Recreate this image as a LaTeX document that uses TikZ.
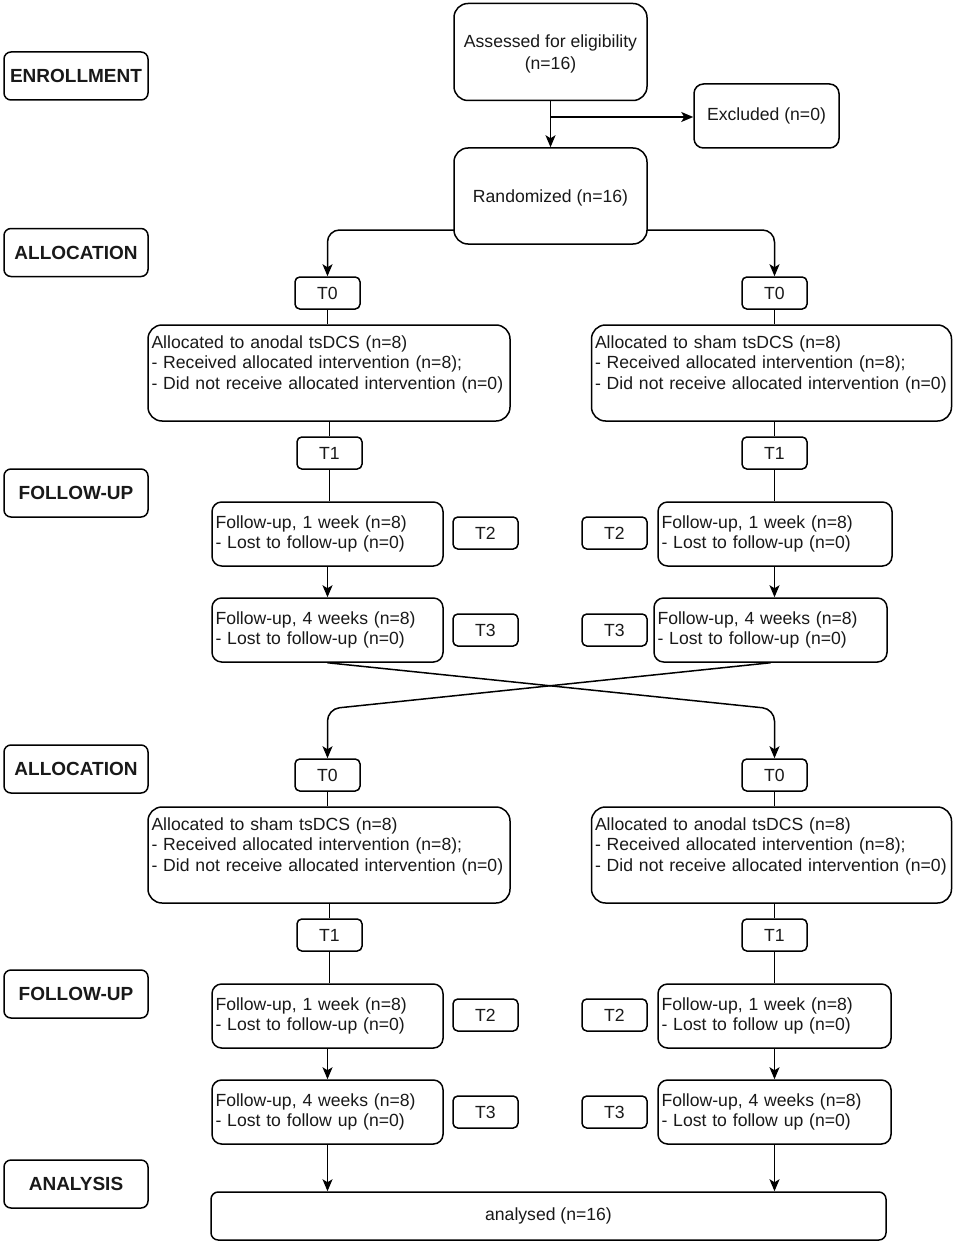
\documentclass[tikz,border=0pt]{standalone}
\usepackage{fontspec}
\setmainfont{Liberation Sans}
\usetikzlibrary{arrows.meta}
\begin{document}
\begin{tikzpicture}[x=1pt,y=-1pt,
  every node/.style={font=\fontsize{17.6}{20.8}\selectfont, text=black!90},
  cbox/.style={draw, line width=1.5pt, rounded corners=#1, inner sep=0pt, align=center},
  lbox/.style={draw, line width=1.5pt, rounded corners=#1, inner xsep=3.5pt, inner ysep=0pt, align=left},
  stagebox/.style={draw, line width=1.5pt, rounded corners=7pt, inner sep=0pt, minimum width=144pt, minimum height=48pt, font=\fontsize{19}{22}\selectfont\bfseries},
  tbox/.style={draw, line width=1.5pt, rounded corners=4.8pt, inner sep=0pt, minimum width=65pt, minimum height=32pt},
  conn/.style={line width=1.5pt},
  arr/.style={line width=1.5pt, -{Stealth[length=12pt,width=10pt,inset=3pt]}}
]
\fill[white] (0,0) rectangle (957,1252);
\useasboundingbox (0,0) rectangle (957,1252);

% stage labels
\node[stagebox] (enr) at (76,76) {ENROLLMENT};
\node[stagebox] (alab1) at (76,252.5) {ALLOCATION};
\node[stagebox] (flab1) at (76,493) {FOLLOW-UP};
\node[stagebox] (alab2) at (76,769) {ALLOCATION};
\node[stagebox] (flab2) at (76,994) {FOLLOW-UP};
\node[stagebox] (anlab) at (76,1184) {ANALYSIS};

% top
\node[cbox=14pt, minimum width=193pt, minimum height=97pt] (assess) at (550.5,52) {\rule{0pt}{16pt}Assessed for eligibility\\[1.5pt](n=16)};
\node[cbox=9.5pt, minimum width=145pt, minimum height=64pt] (excl) at (766.5,116) {Excluded (n=0)};
\node[cbox=14pt, minimum width=193pt, minimum height=96pt] (rand) at (550.5,196) {\rule{0pt}{17pt}Randomized (n=16)};

% period 1
\node[tbox] (t0a) at (327.5,293) {T0};
\node[tbox] (t0b) at (774.5,293) {T0};
\node[lbox=14pt, text width=355pt, minimum height=96pt] (al1) at (329,373) {Allocated to anodal tsDCS (n=8)\\- Received allocated intervention (n=8);\\- Did not receive allocated intervention (n=0)\\\mbox{}};
\node[lbox=14pt, text width=353pt, minimum height=96pt] (al2) at (771.5,373) {Allocated to sham tsDCS (n=8)\\- Received allocated intervention (n=8);\\- Did not receive allocated intervention (n=0)\\\mbox{}};
\node[tbox] (t1a) at (329.5,453) {T1};
\node[tbox] (t1b) at (774.5,453) {T1};
\node[lbox=9.6pt, text width=224pt, minimum height=64pt] (fu1a) at (327.5,534) {Follow-up, 1 week (n=8)\\- Lost to follow-up (n=0)};
\node[lbox=9.6pt, text width=227pt, minimum height=64pt] (fu1b) at (775,534) {Follow-up, 1 week (n=8)\\- Lost to follow-up (n=0)};
\node[tbox] (t2a) at (485.5,533) {T2};
\node[tbox] (t2b) at (614.5,533) {T2};
\node[lbox=9.6pt, text width=224pt, minimum height=64pt] (fu4a) at (327.5,630) {Follow-up, 4 weeks (n=8)\\- Lost to follow-up (n=0)};
\node[lbox=9.6pt, text width=226pt, minimum height=64pt] (fu4b) at (770.5,630) {Follow-up, 4 weeks (n=8)\\- Lost to follow-up (n=0)};
\node[tbox] (t3a) at (485.5,630) {T3};
\node[tbox] (t3b) at (614.5,630) {T3};

% period 2
\node[tbox] (t0c) at (327.5,775) {T0};
\node[tbox] (t0d) at (774.5,775) {T0};
\node[lbox=14pt, text width=355pt, minimum height=96pt] (al3) at (329,855) {Allocated to sham tsDCS (n=8)\\- Received allocated intervention (n=8);\\- Did not receive allocated intervention (n=0)\\\mbox{}};
\node[lbox=14pt, text width=353pt, minimum height=96pt] (al4) at (771.5,855) {Allocated to anodal tsDCS (n=8)\\- Received allocated intervention (n=8);\\- Did not receive allocated intervention (n=0)\\\mbox{}};
\node[tbox] (t1c) at (329.5,935) {T1};
\node[tbox] (t1d) at (774.5,935) {T1};
\node[lbox=9.6pt, text width=224pt, minimum height=64pt] (fu1c) at (327.5,1016) {Follow-up, 1 week (n=8)\\- Lost to follow-up (n=0)};
\node[lbox=9.6pt, text width=226pt, minimum height=64pt] (fu1d) at (774.5,1016) {Follow-up, 1 week (n=8)\\- Lost to follow up (n=0)};
\node[tbox] (t2c) at (485.5,1015) {T2};
\node[tbox] (t2d) at (614.5,1015) {T2};
\node[lbox=9.6pt, text width=224pt, minimum height=64pt] (fu4c) at (327.5,1112) {Follow-up, 4 weeks (n=8)\\- Lost to follow up (n=0)};
\node[lbox=9.6pt, text width=226pt, minimum height=64pt] (fu4d) at (774.5,1112) {Follow-up, 4 weeks (n=8)\\- Lost to follow up (n=0)};
\node[tbox] (t3c) at (485.5,1112) {T3};
\node[tbox] (t3d) at (614.5,1112) {T3};

\node[cbox=7.2pt, minimum width=675pt, minimum height=48pt] (an) at (548.5,1216) {analysed (n=16)};

% connectors top
\draw[arr] (assess.south) -- (rand.north);
\coordinate (br) at (550.5,117);
\draw[arr] (br) -- (br -| excl.west);
\coordinate (rl) at (454,230);
\coordinate (rr) at (647,230);
\draw[arr, rounded corners=12pt] (rl) -| (t0a.north);
\draw[arr, rounded corners=12pt] (rr) -| (t0b.north);

% period 1 connectors
\draw[conn] (t0a.south) -- (t0a.south |- al1.north);
\draw[conn] (t0b.south) -- (t0b.south |- al2.north);
\draw[conn] (t1a.north |- al1.south) -- (t1a.north);
\draw[conn] (t1b.north |- al2.south) -- (t1b.north);
\draw[conn] (t1a.south) -- (t1a.south |- fu1a.north);
\draw[conn] (t1b.south) -- (t1b.south |- fu1b.north);
\draw[arr] (fu1a.south) -- (fu4a.north);
\draw[arr] (t1b |- fu1b.south) -- (t1b |- fu4b.north);

% crossover
\coordinate (xa) at (774.5,709);
\coordinate (xb) at (327.5,709);
\draw[arr, rounded corners=12pt] (fu4a.south) -- (xa) -- (t0d.north);
\draw[arr, rounded corners=12pt] (fu4b.south) -- (xb) -- (t0c.north);

% period 2 connectors
\draw[conn] (t0c.south) -- (t0c.south |- al3.north);
\draw[conn] (t0d.south) -- (t0d.south |- al4.north);
\draw[conn] (t1c.north |- al3.south) -- (t1c.north);
\draw[conn] (t1d.north |- al4.south) -- (t1d.north);
\draw[conn] (t1c.south) -- (t1c.south |- fu1c.north);
\draw[conn] (t1d.south) -- (t1d.south |- fu1d.north);
\draw[arr] (fu1c.south) -- (fu4c.north);
\draw[arr] (fu1d.south) -- (fu4d.north);
\draw[arr] (fu4c.south) -- (fu4c.south |- an.north);
\draw[arr] (fu4d.south) -- (fu4d.south |- an.north);
\end{tikzpicture}
\end{document}
